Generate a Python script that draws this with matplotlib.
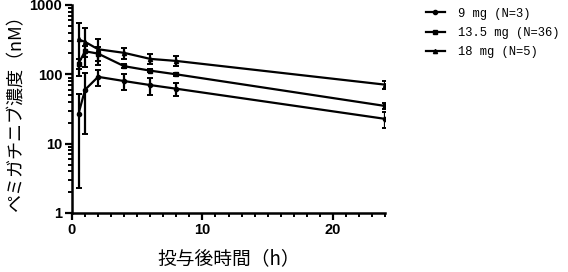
import matplotlib
matplotlib.use("Agg")
import matplotlib.pyplot as plt
from matplotlib.lines import Line2D
from matplotlib.ticker import MultipleLocator, LogLocator, NullFormatter, FixedLocator

# 投与後時間 (h)
times = [0.5, 1, 2, 4, 6, 8, 24]

labels = ["9 mg (N=3)", "13.5 mg (N=36)", "18 mg (N=5)"]
markers = ["o", "s", "^"]

# 平均濃度 (nM) と SD
mean_9 = [27, 60, 92, 80, 70, 62, 22.8]
sd_9 = [24.7, 46, 23, 20, 19, 14, 6]
mean_135 = [143, 215, 199, 131, 113, 100, 35]
sd_135 = [24, 40, 45, 8, 6, 5, 3]
mean_18 = [318, 294, 230, 204, 167, 156, 71]
sd_18 = [224, 165, 95, 35, 28, 25, 9]

means = [mean_9, mean_135, mean_18]
sds = [sd_9, sd_135, sd_18]

jp = ["Noto Sans CJK JP", "DejaVu Sans"]

fig = plt.figure(figsize=(5.68, 2.72), dpi=100)
ax = fig.add_axes([72 / 568, 1 - 213 / 272, (385 - 72) / 568, (213 - 5) / 272])

handles = []
for m, s, mk in zip(means, sds, markers):
    ax.errorbar(times, m, yerr=s, color="black", marker=mk, markersize=3,
                linewidth=1.6, elinewidth=1.6, capsize=2, capthick=1.4)
    handles.append(Line2D([], [], color="black", marker=mk, markersize=3,
                          linewidth=1.6))

ax.set_yscale("log")
ax.set_ylim(1, 1000)
ax.set_xlim(0, 24)
ax.xaxis.set_major_locator(FixedLocator([0, 10, 20]))
ax.xaxis.set_minor_locator(MultipleLocator(1))
ax.yaxis.set_minor_locator(LogLocator(base=10, subs=range(2, 10), numticks=10))
ax.yaxis.set_minor_formatter(NullFormatter())
ax.set_yticks([1, 10, 100, 1000])
ax.set_yticklabels(["1", "10", "100", "1000"])

for side in ["top", "right"]:
    ax.spines[side].set_visible(False)
for side in ["left", "bottom"]:
    ax.spines[side].set_linewidth(1.8)
ax.tick_params(which="major", length=5, width=1.6, labelsize=10.5, pad=2)
ax.tick_params(which="minor", length=3, width=1.4)
for t in ax.get_xticklabels() + ax.get_yticklabels():
    t.set_fontweight("bold")
    t.set_family("Liberation Sans")

ax.set_xlabel("投与後時間（h）", family=jp, fontsize=13.5, labelpad=8)
ax.set_ylabel("ペミガチニブ濃度（nM）", family=jp, fontsize=13, labelpad=3)

ax.legend(handles, labels, loc="upper left", bbox_to_anchor=(1.095, 1.04),
          frameon=False, prop={"family": "Liberation Mono", "size": 8.7},
          handlelength=1.6, labelspacing=0.6, handletextpad=1.1)

fig.savefig("out.png", dpi=100)
